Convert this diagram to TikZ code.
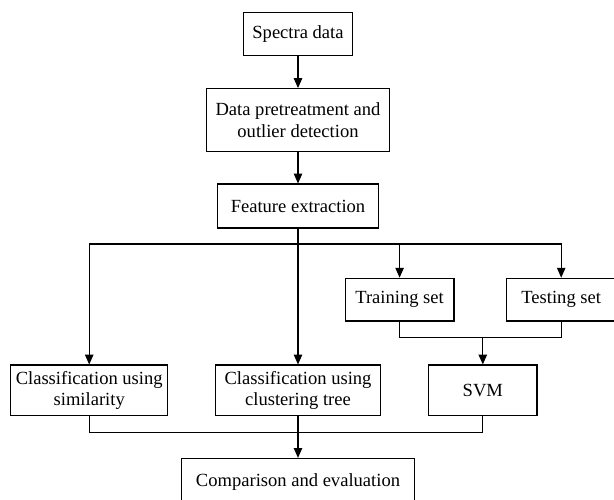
\documentclass[tikz,border=0pt]{standalone}
\usepackage{fontspec}
\setmainfont{Liberation Serif}
\usetikzlibrary{arrows.meta}

\begin{document}
\begin{tikzpicture}[scale=1, auto,
	flowbox/.style={draw, rectangle, align=center, inner sep=2pt,
		font=\fontsize{13.2}{15.4}\selectfont},
	every path/.style={line width=0.75pt},
	>={Triangle[length=7pt, width=6pt]}]
	%\draw[help lines] (0,0) grid (15,12);
	\useasboundingbox (0,0) rectangle (15.35,12.5);

	\node (spectra) [flowbox, minimum width=2.72cm, minimum height=1.07cm] at (7.45,11.65) {Spectra data};
	\node (pretreat) [flowbox, minimum width=4.56cm, minimum height=1.57cm] at (7.45,9.5) {Data pretreatment and\\outlier detection};
	\node (feature) [flowbox, minimum width=4.01cm, minimum height=1.1cm] at (7.45,7.35) {Feature extraction};

	\node (training) [flowbox, minimum width=2.72cm, minimum height=1.07cm] at (9.99,5.01) {Training set};
	\node (testing) [flowbox, minimum width=2.72cm, minimum height=1.07cm] at (14.03,5.01) {Testing set};

	\node (simclass) [flowbox, minimum width=3.92cm, minimum height=1.27cm] at (2.23,2.74) {Classification using\\similarity};
	\node (treeclass) [flowbox, minimum width=4.11cm, minimum height=1.27cm] at (7.45,2.74) {Classification using\\clustering tree};
	\node (svm) [flowbox, minimum width=2.71cm, minimum height=1.27cm] at (12.07,2.74) {SVM};

	\node (compare) [flowbox, minimum width=5.83cm, minimum height=1.2cm] at (7.45,0.44) {Comparison and evaluation};

	\coordinate (split) at (7.45,6.4);
	\coordinate (join) at (12.07,4.07);
	\coordinate (merge) at (7.45,1.69);

	\draw [->] (spectra) -- (pretreat);
	\draw [->] (pretreat) -- (feature);
	\draw [->] (feature) -- (treeclass);
	\draw [->] (split) -| (simclass);
	\draw [->] (split) -| (training);
	\draw [->] (split) -| (testing);
	\draw (training) |- (join);
	\draw (testing) |- (join);
	\draw [->] (join) -- (svm);
	\draw (simclass) |- (merge);
	\draw (svm) |- (merge);
	\draw [->] (treeclass) -- (compare);
\end{tikzpicture}
\end{document}
